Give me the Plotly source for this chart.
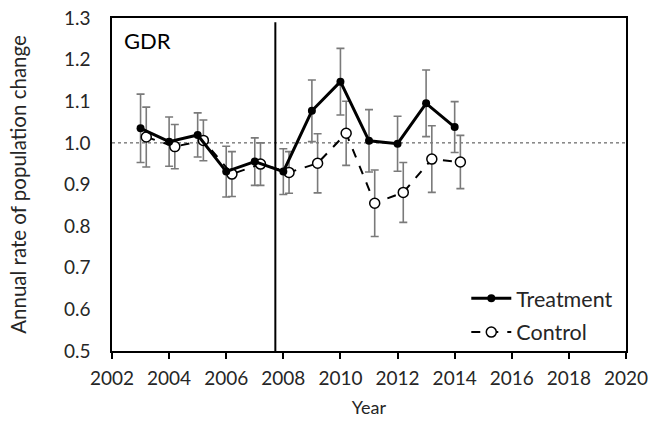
import plotly.graph_objects as go

years = [2003, 2004, 2005, 2006, 2007, 2008, 2009, 2010, 2011, 2012, 2013, 2014]
treatment = [1.035, 1.003, 1.019, 0.931, 0.955, 0.931, 1.077, 1.147, 1.005, 0.998, 1.095, 1.038]
treatment_err = [0.082, 0.059, 0.053, 0.061, 0.057, 0.055, 0.074, 0.080, 0.075, 0.066, 0.080, 0.061]
control = [1.014, 0.991, 1.006, 0.925, 0.949, 0.929, 0.951, 1.023, 0.855, 0.881, 0.961, 0.954]
control_err = [0.072, 0.053, 0.049, 0.054, 0.051, 0.050, 0.071, 0.077, 0.080, 0.072, 0.080, 0.064]
intervention_year = 2007.72
reference_rate = 1.0
x_ticks = list(range(2002, 2021, 2))
y_ticks = [0.5, 0.6, 0.7, 0.8, 0.9, 1.0, 1.1, 1.2, 1.3]

DODGE = 0.2
control_x = [y + DODGE for y in years]
FONT = "Lato"
TEXT = "#262626"
ERR_COLOR = "#7a7a7a"

fig = go.Figure()

# error bars (drawn beneath)
fig.add_trace(go.Scatter(x=years, y=treatment, mode="markers", marker=dict(opacity=0),
                         error_y=dict(type="data", array=treatment_err, color=ERR_COLOR, thickness=1.6, width=4),
                         showlegend=False, hoverinfo="skip"))
fig.add_trace(go.Scatter(x=control_x, y=control, mode="markers", marker=dict(opacity=0),
                         error_y=dict(type="data", array=control_err, color=ERR_COLOR, thickness=1.6, width=4),
                         showlegend=False, hoverinfo="skip"))

fig.add_trace(go.Scatter(x=control_x, y=control, mode="lines+markers", name="Control",
                         legendgroup="b", legendrank=2,
                         line=dict(color="black", width=2, dash="dash"),
                         marker=dict(symbol="circle", size=10, color="white", line=dict(color="black", width=1.5))))
fig.add_trace(go.Scatter(x=years, y=treatment, mode="lines+markers", name="Treatment",
                         legendgroup="a", legendrank=1,
                         line=dict(color="black", width=3),
                         marker=dict(symbol="circle", size=8, color="black")))

fig.add_hline(y=reference_rate, line=dict(color="#444444", width=1, dash="3px,3px"), layer="below")
fig.add_shape(type="line", x0=intervention_year, x1=intervention_year, xref="x", yref="paper",
              y0=0, y1=0.987, line=dict(color="black", width=2))

fig.add_annotation(text="GDR", xref="paper", yref="paper", x=0.02, y=0.978,
                   xanchor="left", yanchor="top", showarrow=False,
                   font=dict(family=FONT, size=22, color="black"))

fig.update_layout(
    width=654, height=426,
    margin=dict(l=112, r=28, t=18, b=75, autoexpand=False),
    paper_bgcolor="white", plot_bgcolor="white",
    font=dict(family=FONT, size=18, color=TEXT),
    legend=dict(x=0.985, y=-0.005, xanchor="right", yanchor="bottom",
                bgcolor="rgba(0,0,0,0)", traceorder="grouped",
                font=dict(family=FONT, size=21.5, color=TEXT),
                tracegroupgap=3, itemwidth=40),
    xaxis=dict(range=[2002, 2020], tickvals=x_ticks, ticks="outside", ticklen=6,
               tickwidth=1.5, tickcolor="black", showgrid=False, zeroline=False,
               showline=True, linecolor="black", linewidth=1.5, mirror=True,
               automargin=False, ticklabelstandoff=3,
               tickfont=dict(family=FONT, size=19, color=TEXT),
               title=dict(text="Year", font=dict(family=FONT, size=18, color=TEXT), standoff=14)),
    yaxis=dict(range=[0.5, 1.3], tickvals=y_ticks, tickformat=".1f", ticks="",
               showgrid=False, zeroline=False, showline=True, linecolor="black",
               linewidth=1.5, mirror=True, automargin=False, ticklabelstandoff=16,
               tickfont=dict(family=FONT, size=19, color=TEXT),
               title=dict(text="Annual rate of population change", font=dict(family=FONT, size=20.5, color=TEXT), standoff=32)),
)

fig.write_html("out.html", config={"displayModeBar": False},
               post_script="document.body.style.margin='0';")
